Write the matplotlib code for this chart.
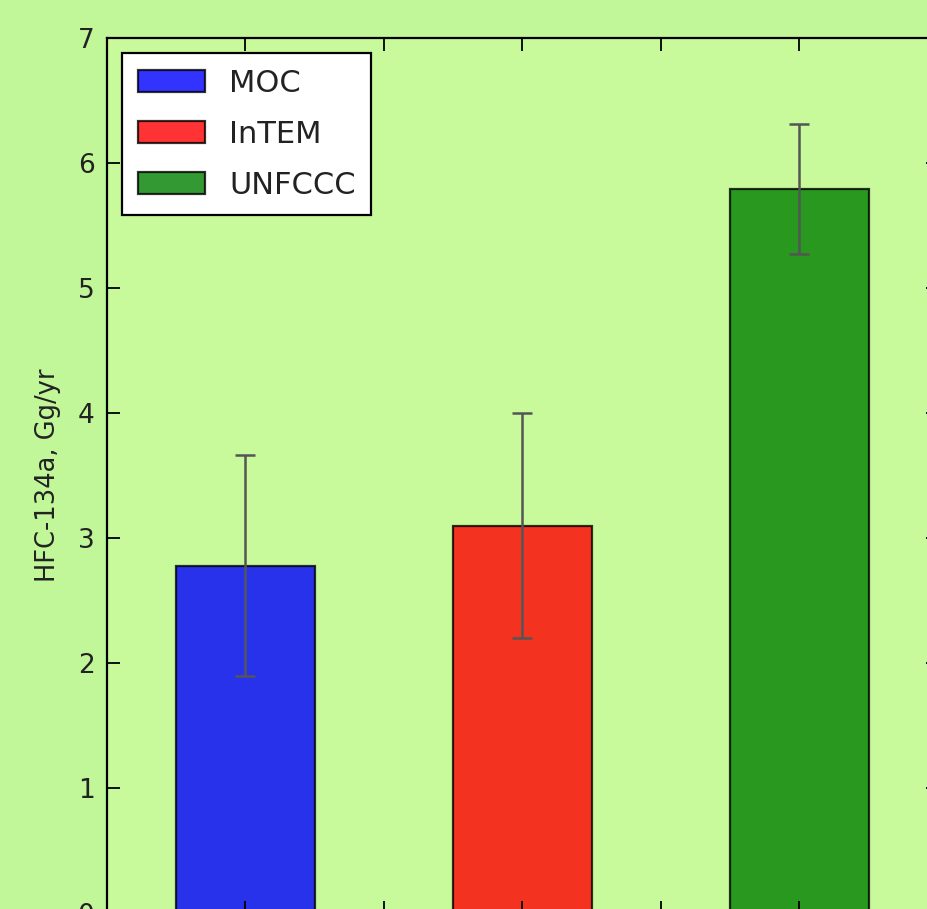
import matplotlib
matplotlib.use('Agg')
import matplotlib.pyplot as plt

# estimated emissions and uncertainties
sources = ['MOC', 'InTEM', 'UNFCCC']
emissions = [2.78, 3.10, 5.79]
errors = [0.885, 0.90, 0.52]
bar_colors = ['#0000ff', '#ff0000', '#008000']

fig = plt.figure(figsize=(9.28, 9.09), dpi=100, facecolor='#c2f799')
# axes run a little past the right and bottom edges, as in the original crop
ax = fig.add_axes([107/928, -4/909, 831/928, 875/909], facecolor='#c8fa9c')

positions = list(range(len(sources)))
for i in positions:
    ax.bar(i, emissions[i], width=0.5, color=bar_colors[i], alpha=0.8,
           edgecolor='black', linewidth=1.6, label=sources[i],
           yerr=errors[i], ecolor='#555555',
           error_kw=dict(elinewidth=1.8, capsize=7.2, capthick=1.8))

ax.set_xlim(-0.5, 2.5)
ax.set_ylim(0, 7)
ax.set_xticks([0, 0.5, 1, 1.5, 2])
ax.set_xticklabels([])
ax.set_yticks(range(8))
ax.tick_params(direction='in', length=9, width=1.3, labelsize=19,
               labelcolor='#222222', top=True, right=True, pad=9)
for s in ax.spines.values():
    s.set_linewidth(1.6)

ax.set_ylabel('HFC-134a, Gg/yr', fontsize=18.5, labelpad=12, color='#222222')

leg = ax.legend(loc='upper left', fontsize=22, frameon=True, fancybox=False,
                handlelength=2.2, handleheight=0.75, borderpad=0.5,
                labelspacing=0.72, handletextpad=0.8, borderaxespad=0.5)
leg.get_frame().set_edgecolor('black')
leg.get_frame().set_linewidth(1.6)
leg.get_frame().set_alpha(1)
for t in leg.get_texts():
    t.set_color('#222222')

fig.savefig('out.png', dpi=100, facecolor=fig.get_facecolor())
